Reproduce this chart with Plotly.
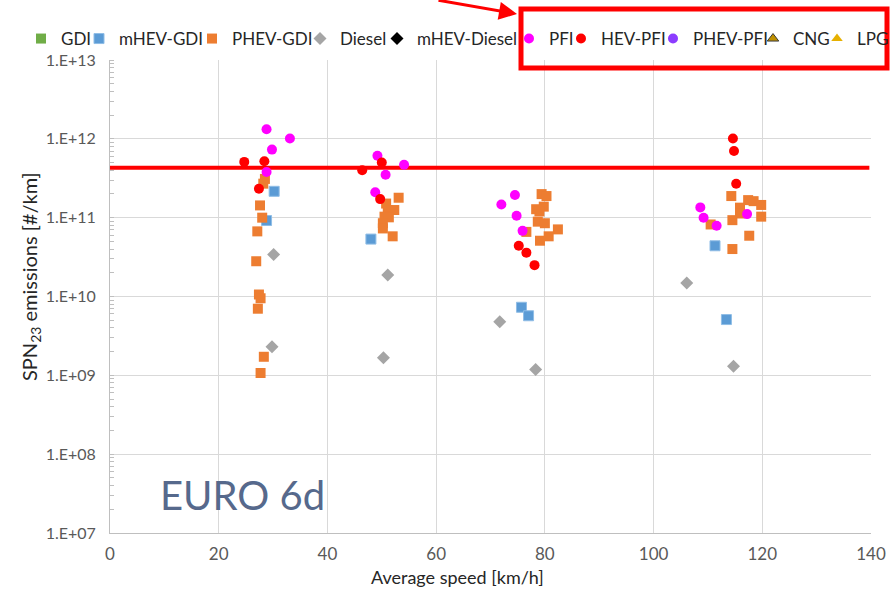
import plotly.graph_objects as go

# ---------------- data ----------------
GDI_X, GDI_Y = [], []

MHEV_GDI_X = [30.2, 28.8, 48.0, 75.7, 77.0, 111.3, 113.4]
MHEV_GDI_Y = [2.16e11, 9.2e10, 5.35e10, 7.3e9, 5.7e9, 4.4e10, 5.1e9]

PHEV_GDI_X = [28.5, 28.2, 27.6, 28.0, 27.1, 26.9, 27.4, 27.7, 27.2, 28.3, 27.7,
              53.1, 50.8, 52.3, 51.1, 50.5, 51.3, 50.2, 50.2, 52.0,
              79.4, 80.3, 79.8, 78.4, 79.0, 78.7, 80.0, 82.4, 80.7, 79.1, 76.6,
              114.3, 110.5, 114.5, 115.9, 115.9, 117.4, 118.4, 119.8, 119.8, 117.6, 114.5]
PHEV_GDI_Y = [3.1e11, 2.7e11, 1.43e11, 1.0e11, 6.7e10, 2.8e10, 1.06e10, 9.5e9, 7.0e9, 1.72e9, 1.07e9,
              1.79e11, 1.51e11, 1.25e11, 1.25e11, 1.03e11, 1.01e11, 8.5e10, 7.3e10, 5.8e10,
              1.99e11, 1.88e11, 1.38e11, 1.28e11, 1.2e11, 8.9e10, 8.5e10, 7.1e10, 5.8e10, 5.1e10, 6.6e10,
              1.88e11, 8.2e10, 9.3e10, 1.34e11, 1.13e11, 1.67e11, 1.62e11, 1.45e11, 1.03e11, 5.9e10, 4.0e10]

DIESEL_X = [30.1, 29.8, 51.1, 50.3, 71.7, 78.3, 106.1, 114.7]
DIESEL_Y = [3.4e10, 2.3e9, 1.87e10, 1.67e9, 4.8e9, 1.19e9, 1.48e10, 1.3e9]

MHEV_DIESEL_X, MHEV_DIESEL_Y = [], []

PFI_X = [28.8, 33.1, 29.8, 28.8, 49.2, 54.1, 50.7, 48.8, 74.5, 72.0, 74.8, 75.9,
         108.6, 109.2, 111.6, 117.2]
PFI_Y = [1.32e12, 1.01e12, 7.3e11, 3.8e11, 6.1e11, 4.7e11, 3.5e11, 2.1e11, 1.94e11, 1.47e11, 1.06e11, 6.8e10,
         1.35e11, 1.0e11, 7.9e10, 1.11e11]

HEV_PFI_X = [24.7, 28.4, 27.4, 46.4, 50.0, 49.7, 75.2, 76.6, 78.1, 114.6, 114.8, 115.2]
HEV_PFI_Y = [5.1e11, 5.2e11, 2.33e11, 4.0e11, 5.0e11, 1.72e11, 4.4e10, 3.6e10, 2.5e10, 1.01e12, 7.0e11, 2.69e11]

PHEV_PFI_X, PHEV_PFI_Y = [], []
CNG_X, CNG_Y = [], []
LPG_X, LPG_Y = [], []

LIMIT_X = [0, 139.7]
LIMIT_Y = [4.3e11, 4.3e11]

Y_TICKS = [1e7, 1e8, 1e9, 1e10, 1e11, 1e12, 1e13]
Y_TICK_TEXT = ["1.E+07", "1.E+08", "1.E+09", "1.E+10", "1.E+11", "1.E+12", "1.E+13"]
X_TICKS = [0, 20, 40, 60, 80, 100, 120, 140]

# ---------------- figure ----------------
FONT = "Lato, Calibri, sans-serif"
W, H = 891, 590
ML, MR, MT, MB = 110, 20, 60, 57
PW, PH = W - ML - MR, H - MT - MB

def px_x(p):
    return (p - ML) / PW

def px_y(p):
    return (H - MB - p) / PH

series = [
    ("GDI", GDI_X, GDI_Y, dict(symbol="square", color="#70ad47", size=10)),
    ("mHEV-GDI", MHEV_GDI_X, MHEV_GDI_Y, dict(symbol="square", color="#5b9bd5", size=10,
                                               line=dict(color="#8fbde6", width=1))),
    ("PHEV-GDI", PHEV_GDI_X, PHEV_GDI_Y, dict(symbol="square", color="#ed7d31", size=10)),
    ("Diesel", DIESEL_X, DIESEL_Y, dict(symbol="diamond", color="#a5a5a5", size=10)),
    ("mHEV-Diesel", MHEV_DIESEL_X, MHEV_DIESEL_Y, dict(symbol="diamond", color="#000000", size=10)),
    ("PFI", PFI_X, PFI_Y, dict(symbol="circle", color="#ff00ff", size=10)),
    ("HEV-PFI", HEV_PFI_X, HEV_PFI_Y, dict(symbol="circle", color="#ff0000", size=10)),
    ("PHEV-PFI", PHEV_PFI_X, PHEV_PFI_Y, dict(symbol="circle", color="#8c3cff", size=10)),
    ("CNG", CNG_X, CNG_Y, dict(symbol="triangle-up", color="#bf9000", size=10,
                               line=dict(color="#3a3a3a", width=1))),
    ("LPG", LPG_X, LPG_Y, dict(symbol="triangle-up", color="#e6b000", size=10)),
]

# text start positions (px) of each legend entry in the reference
LEGEND_TEXT_PX = [57, 115, 228, 336, 413, 545, 597, 689, 789, 853]

fig = go.Figure()

fig.add_trace(go.Scatter(x=LIMIT_X, y=LIMIT_Y, mode="lines",
                         line=dict(color="#ff0000", width=4),
                         showlegend=False, hoverinfo="skip"))

layout_legends = {}
for i, (name, xs, ys, mk) in enumerate(series):
    key = "legend" if i == 0 else f"legend{i + 1}"
    fig.add_trace(go.Scatter(x=xs if xs else [None], y=ys if ys else [None],
                             mode="markers", name=name, marker=mk,
                             legend=key, showlegend=True))
    layout_legends[key] = dict(
        visible=True,
        x=px_x(LEGEND_TEXT_PX[i] - 36), xanchor="left", xref="paper",
        y=px_y(39), yanchor="middle", yref="paper",
        orientation="h", bgcolor="rgba(0,0,0,0)", borderwidth=0,
        font=dict(family=FONT, size=17, color="#262626"),
    )

fig.update_layout(
    width=W, height=H,
    margin=dict(l=ML, r=MR, t=MT, b=MB, autoexpand=False),
    paper_bgcolor="white", plot_bgcolor="white",
    font=dict(family=FONT, color="#595959"),
    showlegend=True,
    **layout_legends,
)

fig.update_xaxes(
    range=[0, 140], tickvals=X_TICKS, showgrid=True, gridcolor="#d9d9d9", gridwidth=1,
    showline=True, linecolor="#bfbfbf", linewidth=1, zeroline=False, automargin=False,
    ticks="", tickfont=dict(family=FONT, size=17, color="#595959"),
    ticklabelstandoff=6,
)
fig.update_yaxes(
    type="log", range=[7, 13], tickvals=Y_TICKS, ticktext=Y_TICK_TEXT,
    showgrid=True, gridcolor="#d9d9d9", gridwidth=1, automargin=False,
    showline=True, linecolor="#bfbfbf", linewidth=1, zeroline=False,
    ticks="", tickfont=dict(family=FONT, size=16, color="#595959"),
    ticklabelstandoff=10,
    minor=dict(ticks="inside", ticklen=4, tickcolor="#bfbfbf", dtick="D1", showgrid=False),
)

# axis titles
fig.add_annotation(text="Average speed [km/h]", xref="paper", yref="paper",
                   x=px_x(457), y=px_y(577), xanchor="center", yanchor="middle",
                   showarrow=False, font=dict(family=FONT, size=18, color="#262626"))
fig.add_annotation(text="SPN<sub>23</sub> emissions [#/km]", xref="paper", yref="paper",
                   x=px_x(30), y=px_y(277), xanchor="center", yanchor="middle",
                   showarrow=False, textangle=-90,
                   font=dict(family=FONT, size=20, color="#262626"))

# EURO 6d label
fig.add_annotation(text="EURO 6d", xref="paper", yref="paper",
                   x=px_x(158), y=px_y(495), xanchor="left", yanchor="middle",
                   showarrow=False, font=dict(family=FONT, size=40, color="#56698c"))

# red highlight box and arrow
fig.add_shape(type="rect", xref="paper", yref="paper",
              x0=px_x(521), x1=px_x(887), y0=px_y(68), y1=px_y(9),
              line=dict(color="#ff0000", width=5), fillcolor="rgba(0,0,0,0)")
fig.add_annotation(text="", xref="paper", yref="paper",
                   x=px_x(517), y=px_y(14), ax=-80, ay=-30,
                   showarrow=True, arrowhead=2, arrowsize=1.2, arrowwidth=3,
                   arrowcolor="#ff0000")

fig.write_html("out.html", config={"displayModeBar": False},
               post_script="document.body.style.margin='0';document.body.style.padding='0';")
